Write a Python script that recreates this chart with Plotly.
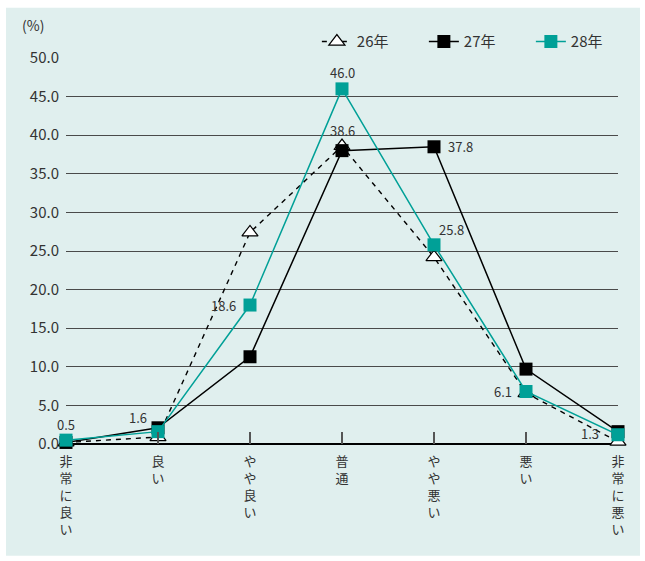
import plotly.graph_objects as go

categories = ["非常に良い", "良い", "やや良い", "普通", "やや悪い", "悪い", "非常に悪い"]
series_names = ["26年", "27年", "28年"]
v26 = [0.2, 0.9, 27.4, 38.6, 24.2, 6.6, 0.3]
v27 = [0.2, 2.1, 11.3, 38.0, 38.5, 9.7, 1.6]
v28 = [0.5, 1.6, 18.0, 46.0, 25.8, 6.8, 1.2]
y_ticks = [0, 5, 10, 15, 20, 25, 30, 35, 40, 45, 50]

# data labels: (series index, category index, text)
label_series = [2, 2, 2, 2, 0, 1, 2, 2, 2]
label_cat = [0, 1, 2, 3, 3, 4, 4, 5, 6]
label_text = ["0.5", "1.6", "18.6", "46.0", "38.6", "37.8", "25.8", "6.1", "1.3"]
# label offsets (style)
label_shift = [(0, 16), (-20, 14), (-27, 0), (0, 16), (0, 16), (26, 0), (17, 15), (-23, 0), (-28, 1)]

FONT = "Noto Sans CJK JP"
TEAL = "#00a097"
TXT = "#333333"

fig = go.Figure()
fig.add_trace(go.Scatter(
    x=categories, y=v26, name=series_names[0], mode="lines+markers",
    line=dict(color="black", width=1.4, dash="5px,5px"),
    marker=dict(symbol="triangle-up", size=14, color="white", line=dict(color="black", width=1.2)),
    cliponaxis=False))
fig.add_trace(go.Scatter(
    x=categories, y=v27, name=series_names[1], mode="lines+markers",
    line=dict(color="black", width=1.5),
    marker=dict(symbol="square", size=13, color="black"),
    cliponaxis=False))
fig.add_trace(go.Scatter(
    x=categories, y=v28, name=series_names[2], mode="lines+markers",
    line=dict(color=TEAL, width=1.5),
    marker=dict(symbol="square", size=13, color=TEAL),
    cliponaxis=False))

vals = [v26, v27, v28]
annotations = []
for s, c, t, (dx, dy) in zip(label_series, label_cat, label_text, label_shift):
    annotations.append(dict(x=categories[c], y=vals[s][c], xref="x", yref="y", text=t,
                            showarrow=False, xshift=dx, yshift=dy,
                            font=dict(family=FONT, size=13, color=TXT)))
annotations.append(dict(x=-0.06, y=1.055, xref="paper", yref="paper", text="(%)",
                        showarrow=False, xanchor="center", yanchor="bottom",
                        font=dict(family=FONT, size=14, color=TXT)))

ticktext = ["<br>".join(list(c)) for c in categories]

fig.update_layout(
    width=645, height=561,
    margin=dict(l=66, r=27, t=58, b=117, autoexpand=False),
    paper_bgcolor="white", plot_bgcolor="rgba(0,0,0,0)",
    font=dict(family=FONT, color=TXT),
    showlegend=True,
    legend=dict(orientation="h", x=1.036, xanchor="right", y=1.042, yanchor="middle",
                font=dict(family=FONT, size=15, color=TXT), bgcolor="rgba(0,0,0,0)",
                entrywidth=62, entrywidthmode="pixels", tracegroupgap=0),
    annotations=annotations,
    shapes=[dict(type="rect", xref="paper", yref="paper", x0=-0.1087, x1=1.0399,
                 y0=-0.2894, y1=1.1303, fillcolor="#e0efee", line=dict(width=0), layer="below")],
    xaxis=dict(range=[0, 6], tickvals=categories, ticktext=ticktext, showgrid=False,
               ticks="inside", ticklen=12, tickwidth=1.5, tickcolor="#555555",
               tickfont=dict(family=FONT, size=13, color=TXT), ticklabelstandoff=8,
               showline=False, zeroline=False),
    yaxis=dict(range=[0, 50], tickvals=y_ticks, tickformat=".1f",
               showgrid=True, gridcolor="#4a4a4a", gridwidth=1.3,
               zeroline=True, zerolinecolor="black", zerolinewidth=2.2,
               tickfont=dict(family=FONT, size=15, color=TXT), ticks="",
               ticklabelstandoff=6, showline=False),
)

fig.write_html("out.html")
